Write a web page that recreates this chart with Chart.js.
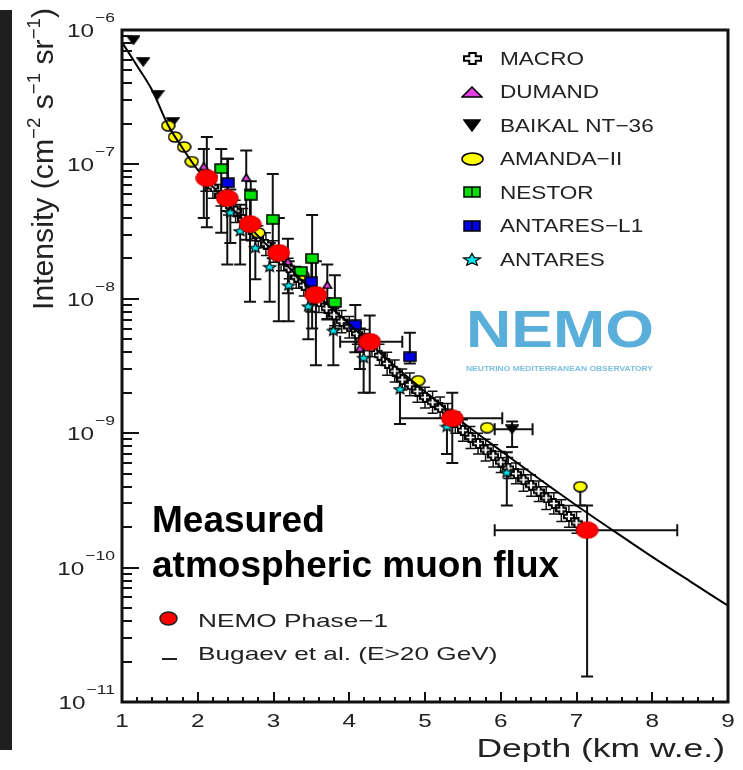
<!DOCTYPE html>
<html>
<head>
<meta charset="utf-8">
<script src="https://cdn.jsdelivr.net/npm/chart.js@4.4.1/dist/chart.umd.min.js"></script>
<style>
  html, body { margin: 0; padding: 0; background: #fff; overflow: hidden; }
  canvas { display: block; }
</style>
</head>
<body>
<canvas id="chart" width="743" height="770"></canvas>
<script>
// ---- data (depth in km w.e., intensity in cm^-2 s^-1 sr^-1) ----
const bugaevDepth = [1.0, 1.2, 1.4, 1.6, 1.8, 2.0, 2.2, 2.5, 3.0, 3.5, 4.0, 4.5, 5.0, 5.5, 6.0, 6.5, 7.0, 7.5, 8.0, 8.5, 9.0];
const bugaevFlux = [8.1e-7, 5.4e-7, 3.55e-7, 2.0e-7, 1.32e-7, 9.1e-8, 6.8e-8, 4.4e-8, 2.24e-8, 1.17e-8, 6.5e-9, 3.55e-9, 2.04e-9, 1.2e-9, 7.4e-10, 4.6e-10, 2.9e-10, 1.86e-10, 1.2e-10, 7.9e-11, 5.2e-11];

const macroDepth = [2.1, 2.2, 2.3, 2.4, 2.5, 2.6, 2.7, 2.8, 2.9, 3.0, 3.1, 3.2, 3.3, 3.4, 3.5, 3.6, 3.7, 3.8, 3.9, 4.0, 4.1, 4.2, 4.3, 4.4, 4.5, 4.6, 4.7, 4.8, 4.9, 5.0, 5.1, 5.2, 5.3, 5.4, 5.5, 5.6, 5.7, 5.8, 5.9, 6.0, 6.1, 6.2, 6.3, 6.4, 6.5, 6.6, 6.7, 6.8, 6.9, 7.0];
const macroFlux = [7.6e-8, 6.8e-8, 5.9e-8, 5.1e-8, 4.5e-8, 3.9e-8, 3.3e-8, 2.9e-8, 2.55e-8, 2.25e-8, 1.95e-8, 1.7e-8, 1.45e-8, 1.26e-8, 1.1e-8, 9.5e-9, 8.5e-9, 7.6e-9, 6.8e-9, 6.2e-9, 5.5e-9, 4.9e-9, 4.4e-9, 3.8e-9, 3.3e-9, 2.9e-9, 2.5e-9, 2.3e-9, 2.05e-9, 1.85e-9, 1.7e-9, 1.55e-9, 1.38e-9, 1.2e-9, 1.05e-9, 9.3e-10, 8.4e-10, 7.5e-10, 6.8e-10, 6.1e-10, 5.5e-10, 5.0e-10, 4.5e-10, 4.1e-10, 3.7e-10, 3.3e-10, 3.0e-10, 2.7e-10, 2.4e-10, 2.15e-10];
const macroFluxHi = [9.1e-8, 8.2e-8, 7.1e-8, 6.1e-8, 5.4e-8, 4.7e-8, 4.0e-8, 3.5e-8, 3.1e-8, 2.7e-8, 2.3e-8, 2.0e-8, 1.74e-8, 1.5e-8, 1.32e-8, 1.14e-8, 1.02e-8, 9.1e-9, 8.2e-9, 7.4e-9, 6.6e-9, 5.9e-9, 5.3e-9, 4.6e-9, 4.0e-9, 3.5e-9, 3.0e-9, 2.8e-9, 2.5e-9, 2.2e-9, 2.05e-9, 1.86e-9, 1.66e-9, 1.44e-9, 1.26e-9, 1.12e-9, 1.0e-9, 9.0e-10, 8.2e-10, 7.3e-10, 6.6e-10, 6.0e-10, 5.4e-10, 4.9e-10, 4.4e-10, 4.0e-10, 3.6e-10, 3.2e-10, 2.9e-10, 2.6e-10];
const macroFluxLo = [6.3e-8, 5.6e-8, 4.9e-8, 4.2e-8, 3.7e-8, 3.2e-8, 2.7e-8, 2.4e-8, 2.1e-8, 1.87e-8, 1.62e-8, 1.41e-8, 1.2e-8, 1.05e-8, 9.1e-9, 7.9e-9, 7.1e-9, 6.3e-9, 5.6e-9, 5.1e-9, 4.6e-9, 4.1e-9, 3.7e-9, 3.2e-9, 2.7e-9, 2.4e-9, 2.1e-9, 1.9e-9, 1.7e-9, 1.54e-9, 1.41e-9, 1.29e-9, 1.15e-9, 1.0e-9, 8.7e-10, 7.7e-10, 7.0e-10, 6.2e-10, 5.6e-10, 5.1e-10, 4.6e-10, 4.2e-10, 3.7e-10, 3.4e-10, 3.1e-10, 2.7e-10, 2.5e-10, 2.2e-10, 2.0e-10, 1.8e-10];

const dumandDepth = [2.08, 2.64, 3.19, 3.71, 4.14];
const dumandFlux = [9.7e-8, 8.0e-8, 1.9e-8, 1.27e-8, 4.3e-9];
const dumandFluxHi = [1.3e-7, 1.27e-7, 2.8e-8, 1.8e-8, 6.0e-9];
const dumandFluxLo = [4.0e-8, 2.75e-8, 1.1e-8, 7.0e-9, 3.0e-9];

const baikalDepth = [1.15, 1.28, 1.47, 1.67, 6.15];
const baikalFlux = [8.4e-7, 5.8e-7, 3.3e-7, 2.07e-7, 1.07e-9];
const baikalFluxHi = [null, null, null, null, 1.22e-9];
const baikalFluxLo = [null, null, null, null, 7.9e-10];
const baikalDepthLo = [null, null, null, null, 5.92];
const baikalDepthHi = [null, null, null, null, 6.42];

const amandaDepth = [1.61, 1.70, 1.82, 1.92, 2.80, 3.38, 4.91, 5.82, 7.05];
const amandaFlux = [1.94e-7, 1.6e-7, 1.35e-7, 1.05e-7, 3.1e-8, 1.5e-8, 2.46e-9, 1.1e-9, 4.0e-10];
const amandaFluxHi = [null, null, null, null, null, null, null, null, null];
const amandaFluxLo = [null, null, null, null, null, null, null, null, 2.9e-10];

const nestorDepth = [2.31, 2.70, 2.99, 3.36, 3.51, 3.81];
const nestorFlux = [9.3e-8, 5.9e-8, 3.9e-8, 1.6e-8, 2.0e-8, 9.4e-9];
const nestorFluxHi = [1.3e-7, 7.5e-8, 8.5e-8, null, 4.2e-8, 1.5e-8];
const nestorFluxLo = [3.1e-8, 3.5e-8, 2.0e-8, null, 6.0e-9, 6.0e-9];

const l1Depth = [2.40, 3.50, 4.08, 4.80];
const l1Flux = [7.3e-8, 1.34e-8, 6.4e-9, 3.7e-9];
const l1FluxHi = [1.1e-7, 2.0e-8, 9.0e-9, 5.6e-9];
const l1FluxLo = [4.5e-8, 8.0e-9, 4.0e-9, 3.3e-9];

const antaresDepth = [2.43, 2.56, 2.76, 2.95, 3.20, 3.46, 3.79, 4.19, 4.67, 5.29, 6.08];
const antaresFlux = [4.4e-8, 3.2e-8, 2.4e-8, 1.73e-8, 1.26e-8, 8.8e-9, 5.8e-9, 3.65e-9, 2.13e-9, 1.12e-9, 5.1e-10];
const antaresFluxHi = [6.5e-8, 5.0e-8, 3.5e-8, 2.6e-8, 1.9e-8, 1.3e-8, 8.5e-9, 5.5e-9, 2.6e-9, 1.5e-9, 7.2e-10];
const antaresFluxLo = [2.6e-8, 1.8e-8, 1.4e-8, 9.5e-9, 6.8e-9, 5.0e-9, 3.2e-9, 2.0e-9, 1.17e-9, 7.0e-10, 2.9e-10];

const nemoDepth = [2.12, 2.39, 2.69, 3.07, 3.56, 4.27, 5.36, 7.14];
const nemoFlux = [7.9e-8, 5.6e-8, 3.6e-8, 2.2e-8, 1.07e-8, 4.8e-9, 1.29e-9, 1.9e-10];
const nemoFluxHi = [1.6e-7, 1.1e-7, 6.5e-8, 4.0e-8, 1.9e-8, 7.5e-9, 2.0e-9, 2.9e-10];
const nemoFluxLo = [3.4e-8, 1.8e-8, 9.5e-9, 6.8e-9, 3.2e-9, 2.0e-9, 6.0e-10, 1.55e-11];
const nemoDepthLo = [null, null, null, null, null, 3.88, 4.67, 5.92];
const nemoDepthHi = [null, null, null, null, null, 4.70, 6.02, 8.33];

// axis ticks
const xTicks = [1, 2, 3, 4, 5, 6, 7, 8, 9];
const yDecades = [1e-11, 1e-10, 1e-9, 1e-8, 1e-7, 1e-6];
const yExponents = ["−11", "−10", "−9", "−8", "−7", "−6"];

const legendLabels = ["MACRO", "DUMAND", "BAIKAL NT−36", "AMANDA−II", "NESTOR", "ANTARES−L1", "ANTARES"];

const FONT = "'Liberation Sans', Arial, sans-serif";

// ---- marker images ----
function marker(w, h, draw) {
  const c = document.createElement("canvas");
  c.width = w;
  c.height = h;
  const g = c.getContext("2d");
  g.lineWidth = 1.5;
  g.strokeStyle = "#000";
  g.lineJoin = "miter";
  draw(g, w, h);
  return c;
}

function ellipseMarker(w, h, fill, stroke) {
  return marker(w + 2, h + 2, (g) => {
    g.beginPath();
    g.ellipse((w + 2) / 2, (h + 2) / 2, w / 2, h / 2, 0, 0, Math.PI * 2);
    g.fillStyle = fill;
    g.fill();
    if (stroke) { g.strokeStyle = stroke; g.stroke(); }
  });
}

function triMarker(w, h, fill, down) {
  return marker(w, h, (g) => {
    g.beginPath();
    if (down) { g.moveTo(1, 1); g.lineTo(w - 1, 1); g.lineTo(w / 2, h - 1); }
    else { g.moveTo(w / 2, 1); g.lineTo(w - 1, h - 1); g.lineTo(1, h - 1); }
    g.closePath();
    g.fillStyle = fill;
    g.fill();
    g.stroke();
  });
}

function squareMarker(w, h, fill, stripe) {
  return marker(w, h, (g) => {
    g.fillStyle = fill;
    g.fillRect(1, 1, w - 2, h - 2);
    g.strokeRect(1, 1, w - 2, h - 2);
    if (stripe) {
      g.beginPath();
      g.moveTo(w / 2, 1); g.lineTo(w / 2, h - 1);
      g.stroke();
    }
  });
}

function starMarker(w, h, fill) {
  return marker(w, h, (g) => {
    const cx = w / 2, cy = h / 2 + 0.5, rx = w / 2 - 1, ry = h / 2 - 1;
    g.beginPath();
    for (let i = 0; i < 10; i++) {
      const r = i % 2 === 0 ? 1 : 0.45;
      const a = -Math.PI / 2 + (i * Math.PI) / 5;
      const px = cx + Math.cos(a) * rx * r, py = cy + Math.sin(a) * ry * r;
      if (i === 0) g.moveTo(px, py); else g.lineTo(px, py);
    }
    g.closePath();
    g.fillStyle = fill;
    g.fill();
    g.lineWidth = 1.2;
    g.stroke();
  });
}

function crossMarker(w, h) {
  return marker(w, h, (g) => {
    const cx = w / 2, cy = h / 2, a = w * 0.17, b = h * 0.17;
    g.beginPath();
    g.moveTo(cx - a, 1); g.lineTo(cx + a, 1); g.lineTo(cx + a, cy - b);
    g.lineTo(w - 1, cy - b); g.lineTo(w - 1, cy + b); g.lineTo(cx + a, cy + b);
    g.lineTo(cx + a, h - 1); g.lineTo(cx - a, h - 1); g.lineTo(cx - a, cy + b);
    g.lineTo(1, cy + b); g.lineTo(1, cy - b); g.lineTo(cx - a, cy - b);
    g.closePath();
    g.fillStyle = "#fff";
    g.fill();
    g.lineWidth = 2;
    g.stroke();
  });
}

const mk = {
  macro: crossMarker(12, 11),
  dumand: triMarker(11, 9, "#e040e0", false),
  baikal: triMarker(14, 10, "#000", true),
  amanda: ellipseMarker(13, 10, "#ffff00", "#000"),
  nestor: squareMarker(14, 11, "#00e000", false),
  l1: squareMarker(14, 11, "#0000e6", false),
  antares: starMarker(15, 12, "#00e5ee"),
  nemo: ellipseMarker(21, 16, "#ff0000", "#e00000"),
};

const legendMk = [
  crossMarker(19, 13),
  triMarker(22, 12, "#e040e0", false),
  triMarker(18, 13, "#000", true),
  ellipseMarker(21, 12, "#ffff00", "#000"),
  squareMarker(18, 12, "#00e000", true),
  squareMarker(18, 12, "#0000e6", true),
  starMarker(20, 15, "#00e5ee"),
];
const nemoLegendMk = ellipseMarker(17, 13, "#ff0000", "#222");

const pts = (xs, ys) => xs.map((x, i) => ({ x, y: ys[i] }));

// ---- text helpers ----
function drawText(ctx, str, x, y, size, sx, align, opts) {
  opts = opts || {};
  ctx.save();
  ctx.font = (opts.bold ? "bold " : "") + size + "px " + FONT;
  ctx.fillStyle = opts.color || "#222";
  ctx.textAlign = "left";
  ctx.textBaseline = "alphabetic";
  const w = ctx.measureText(str).width * sx;
  const x0 = align === "right" ? x - w : align === "center" ? x - w / 2 : x;
  ctx.translate(x0, y);
  ctx.scale(sx, 1);
  ctx.fillText(str, 0, 0);
  ctx.restore();
  return w;
}

function richWidth(ctx, segs, f) {
  let w = 0;
  segs.forEach((s) => {
    ctx.font = (s.sup ? f * 0.62 : f) + "px " + FONT;
    w += ctx.measureText(s.t).width;
  });
  return w;
}

function drawRich(ctx, segs, f) {
  let x = 0;
  segs.forEach((s) => {
    ctx.font = (s.sup ? f * 0.62 : f) + "px " + FONT;
    ctx.fillText(s.t, x, s.sup ? -f * 0.42 : 0);
    x += ctx.measureText(s.t).width;
  });
}

// ---- error bars, drawn under the markers ----
const errorBars = {
  id: "errorBars",
  beforeDatasetsDraw(chart) {
    const { ctx, chartArea: a } = chart;
    const xs = chart.scales.x, ys = chart.scales.y;
    ctx.save();
    ctx.beginPath();
    ctx.rect(a.left, a.top, a.right - a.left, a.bottom - a.top);
    ctx.clip();
    ctx.strokeStyle = "#111";
    chart.data.datasets.forEach((ds) => {
      const e = ds.err;
      if (!e) return;
      const cap = e.cap || 6;
      ctx.lineWidth = e.width || 2;
      ds.data.forEach((p, i) => {
        const px = xs.getPixelForValue(p.x), py = ys.getPixelForValue(p.y);
        ctx.beginPath();
        if (e.yHi && e.yHi[i] != null) {
          const t = ys.getPixelForValue(e.yHi[i]);
          ctx.moveTo(px, py); ctx.lineTo(px, t);
          ctx.moveTo(px - cap, t); ctx.lineTo(px + cap, t);
        }
        if (e.yLo && e.yLo[i] != null) {
          const b = ys.getPixelForValue(e.yLo[i]);
          ctx.moveTo(px, py); ctx.lineTo(px, b);
          ctx.moveTo(px - cap, b); ctx.lineTo(px + cap, b);
        }
        if (e.xLo && e.xLo[i] != null) {
          const l = xs.getPixelForValue(e.xLo[i]);
          ctx.moveTo(px, py); ctx.lineTo(l, py);
          ctx.moveTo(l, py - cap); ctx.lineTo(l, py + cap);
        }
        if (e.xHi && e.xHi[i] != null) {
          const r = xs.getPixelForValue(e.xHi[i]);
          ctx.moveTo(px, py); ctx.lineTo(r, py);
          ctx.moveTo(r, py - cap); ctx.lineTo(r, py + cap);
        }
        ctx.stroke();
      });
    });
    ctx.restore();
  },
};

// ---- frame, ticks, labels, legends ----
const decor = {
  id: "decor",
  beforeDraw(chart) {
    const { ctx } = chart;
    ctx.save();
    ctx.fillStyle = "#fff";
    ctx.fillRect(0, 0, chart.width, chart.height);
    ctx.fillStyle = "#1f1f1f";
    ctx.fillRect(0, 10, 12, 740);
    ctx.restore();
  },
  afterDraw(chart) {
    const { ctx, chartArea: a } = chart;
    const xs = chart.scales.x, ys = chart.scales.y;
    ctx.save();

    // ticks
    ctx.strokeStyle = "#111";
    ctx.lineWidth = 2;
    ctx.beginPath();
    yDecades.forEach((d, k) => {
      const py = Math.round(ys.getPixelForValue(d));
      ctx.moveTo(a.left, py); ctx.lineTo(a.left + 17, py);
      if (k < yDecades.length - 1) {
        for (let m = 2; m <= 9; m++) {
          const pm = Math.round(ys.getPixelForValue(m * d));
          ctx.moveTo(a.left, pm); ctx.lineTo(a.left + 10, pm);
        }
      }
    });
    xTicks.forEach((t, k) => {
      const px = Math.round(xs.getPixelForValue(t));
      ctx.moveTo(px, a.bottom); ctx.lineTo(px, a.bottom - 10);
      if (k < xTicks.length - 1) {
        for (let s = 1; s < 5; s++) {
          const pm = Math.round(xs.getPixelForValue(t + s * 0.2));
          ctx.moveTo(pm, a.bottom); ctx.lineTo(pm, a.bottom - 5);
        }
      }
    });
    ctx.stroke();

    // frame
    ctx.lineWidth = 3;
    ctx.strokeStyle = "#111";
    ctx.strokeRect(a.left, a.top, a.right - a.left, a.bottom - a.top);

    // y tick labels 10^n
    yDecades.forEach((d, k) => {
      const py = ys.getPixelForValue(d);
      const sw = drawText(ctx, yExponents[k], 115, py - 8, 13, 1.35, "right");
      drawText(ctx, "10", 115 - sw - 1, py + 7, 18, 1.35, "right");
    });
    // x tick labels
    xTicks.forEach((t) => {
      drawText(ctx, String(t), xs.getPixelForValue(t), 727, 18, 1.35, "center");
    });

    // axis titles
    drawText(ctx, "Depth (km w.e.)", 725, 757, 25, 1.42, "right");
    const ySegs = [
      { t: "Intensity (cm" }, { t: "−2", sup: true }, { t: " s" }, { t: "−1", sup: true },
      { t: " sr" }, { t: "−1", sup: true }, { t: ")" },
    ];
    ctx.save();
    ctx.fillStyle = "#222";
    const yw = richWidth(ctx, ySegs, 30);
    ctx.translate(53, 310);
    ctx.rotate(-Math.PI / 2);
    ctx.scale(302 / yw, 1);
    drawRich(ctx, ySegs, 30);
    ctx.restore();

    // experiment legend (top right)
    legendLabels.forEach((lab, i) => {
      const cy = 58 + i * 33.5;
      const m = legendMk[i];
      ctx.drawImage(m, Math.round(472 - m.width / 2), Math.round(cy - m.height / 2));
      drawText(ctx, lab, 500, cy + 6.5, 18.5, 1.22, "left");
    });

    // NEMO logo
    ctx.save();
    ctx.font = "bold 52px " + FONT;
    const lw = ctx.measureText("NEMO").width;
    ctx.translate(466, 347);
    ctx.scale(188 / lw, 1);
    ctx.fillStyle = "#5aafda";
    ctx.fillText("NEMO", 0, 0);
    ctx.restore();
    ctx.save();
    ctx.font = "bold 7px " + FONT;
    const sw2 = ctx.measureText("NEUTRINO MEDITERRANEAN OBSERVATORY").width;
    ctx.translate(466, 371);
    ctx.scale(187 / sw2, 1);
    ctx.fillStyle = "#7cc0e2";
    ctx.fillText("NEUTRINO MEDITERRANEAN OBSERVATORY", 0, 0);
    ctx.restore();

    // big caption
    drawText(ctx, "Measured", 152, 532, 37, 1, "left", { bold: true, color: "#000" });
    drawText(ctx, "atmospheric muon flux", 152, 577, 37, 1, "left", { bold: true, color: "#000" });

    // bottom legend
    ctx.drawImage(nemoLegendMk, Math.round(168 - nemoLegendMk.width / 2), Math.round(618 - nemoLegendMk.height / 2));
    drawText(ctx, "NEMO Phase−1", 198, 627, 19, 1.38, "left");
    ctx.lineWidth = 2;
    ctx.strokeStyle = "#222";
    ctx.beginPath();
    ctx.moveTo(162, 659); ctx.lineTo(177, 659);
    ctx.stroke();
    drawText(ctx, "Bugaev et al. (E>20 GeV)", 198, 660, 19, 1.38, "left");

    ctx.restore();
  },
};

const ctx = document.getElementById("chart").getContext("2d");
new Chart(ctx, {
  type: "scatter",
  data: {
    datasets: [
      {
        label: "NEMO Phase-1",
        data: pts(nemoDepth, nemoFlux),
        pointStyle: mk.nemo,
        pointRadius: 8,
        order: 0,
        err: { yHi: nemoFluxHi, yLo: nemoFluxLo, xLo: nemoDepthLo, xHi: nemoDepthHi },
      },
      {
        label: "Bugaev et al.",
        data: pts(bugaevDepth, bugaevFlux),
        showLine: true,
        borderColor: "#000",
        borderWidth: 2,
        pointRadius: 0,
        cubicInterpolationMode: "monotone",
        order: 1,
      },
      {
        label: "ANTARES",
        data: pts(antaresDepth, antaresFlux),
        pointStyle: mk.antares,
        pointRadius: 5,
        order: 2,
        err: { yHi: antaresFluxHi, yLo: antaresFluxLo },
      },
      {
        label: "ANTARES-L1",
        data: pts(l1Depth, l1Flux),
        pointStyle: mk.l1,
        pointRadius: 5,
        order: 3,
        err: { yHi: l1FluxHi, yLo: l1FluxLo },
      },
      {
        label: "NESTOR",
        data: pts(nestorDepth, nestorFlux),
        pointStyle: mk.nestor,
        pointRadius: 5,
        order: 4,
        err: { yHi: nestorFluxHi, yLo: nestorFluxLo },
      },
      {
        label: "AMANDA-II",
        data: pts(amandaDepth, amandaFlux),
        pointStyle: mk.amanda,
        pointRadius: 5,
        order: 5,
        err: { yHi: amandaFluxHi, yLo: amandaFluxLo },
      },
      {
        label: "BAIKAL NT-36",
        data: pts(baikalDepth, baikalFlux),
        pointStyle: mk.baikal,
        pointRadius: 5,
        order: 6,
        err: { yHi: baikalFluxHi, yLo: baikalFluxLo, xLo: baikalDepthLo, xHi: baikalDepthHi },
      },
      {
        label: "DUMAND",
        data: pts(dumandDepth, dumandFlux),
        pointStyle: mk.dumand,
        pointRadius: 5,
        order: 7,
        err: { yHi: dumandFluxHi, yLo: dumandFluxLo },
      },
      {
        label: "MACRO",
        data: pts(macroDepth, macroFlux),
        pointStyle: mk.macro,
        pointRadius: 5,
        order: 8,
        err: { yHi: macroFluxHi, yLo: macroFluxLo, cap: 5, width: 1.5 },
      },
    ],
  },
  options: {
    responsive: false,
    animation: false,
    events: [],
    layout: { padding: { left: 122, top: 30, right: 15, bottom: 68 } },
    scales: {
      x: { type: "linear", min: 1, max: 9, display: false },
      y: { type: "logarithmic", min: 1e-11, max: 1e-6, display: false },
    },
    plugins: {
      legend: { display: false },
      tooltip: { enabled: false },
    },
  },
  plugins: [errorBars, decor],
});
</script>
</body>
</html>
